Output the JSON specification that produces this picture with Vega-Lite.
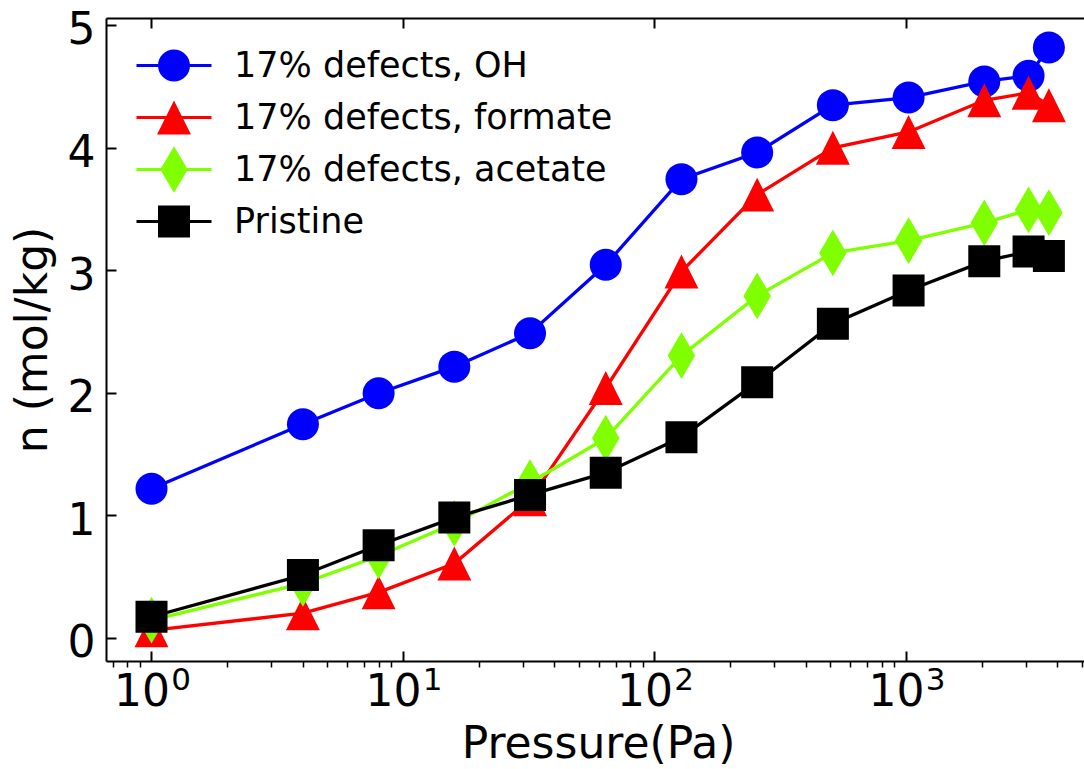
{
  "$schema": "https://vega.github.io/schema/vega-lite/v6.json",
  "width": 978,
  "height": 643,
  "autosize": {"type": "none"},
  "padding": {"left": 106, "top": 18, "right": 0, "bottom": 108},
  "background": "white",
  "config": {
    "font": "DejaVu Sans",
    "view": {"stroke": null},
    "axis": {"grid": false, "labelColor": "black", "titleColor": "black", "tickColor": "black", "domainColor": "black", "labelFont": "DejaVu Sans", "titleFont": "DejaVu Sans"}
  },
  "data": {
    "values": [
      {"series": "17% defects, OH", "p": 1, "n": 1.216},
      {"series": "17% defects, OH", "p": 4, "n": 1.742},
      {"series": "17% defects, OH", "p": 8, "n": 1.995},
      {"series": "17% defects, OH", "p": 16, "n": 2.212},
      {"series": "17% defects, OH", "p": 32, "n": 2.485},
      {"series": "17% defects, OH", "p": 64, "n": 3.043},
      {"series": "17% defects, OH", "p": 128, "n": 3.742},
      {"series": "17% defects, OH", "p": 256, "n": 3.959},
      {"series": "17% defects, OH", "p": 512, "n": 4.346},
      {"series": "17% defects, OH", "p": 1024, "n": 4.408},
      {"series": "17% defects, OH", "p": 2048, "n": 4.539},
      {"series": "17% defects, OH", "p": 3072, "n": 4.585},
      {"series": "17% defects, OH", "p": 3700, "n": 4.816},
      {"series": "17% defects, formate", "p": 1, "n": 0.06},
      {"series": "17% defects, formate", "p": 4, "n": 0.2},
      {"series": "17% defects, formate", "p": 8, "n": 0.37},
      {"series": "17% defects, formate", "p": 16, "n": 0.606},
      {"series": "17% defects, formate", "p": 32, "n": 1.13},
      {"series": "17% defects, formate", "p": 64, "n": 2.038},
      {"series": "17% defects, formate", "p": 128, "n": 2.988},
      {"series": "17% defects, formate", "p": 256, "n": 3.616},
      {"series": "17% defects, formate", "p": 512, "n": 3.998},
      {"series": "17% defects, formate", "p": 1024, "n": 4.127},
      {"series": "17% defects, formate", "p": 2048, "n": 4.385},
      {"series": "17% defects, formate", "p": 3072, "n": 4.447},
      {"series": "17% defects, formate", "p": 3700, "n": 4.345},
      {"series": "17% defects, acetate", "p": 1, "n": 0.144},
      {"series": "17% defects, acetate", "p": 4, "n": 0.444},
      {"series": "17% defects, acetate", "p": 8, "n": 0.667},
      {"series": "17% defects, acetate", "p": 16, "n": 0.933},
      {"series": "17% defects, acetate", "p": 32, "n": 1.265},
      {"series": "17% defects, acetate", "p": 64, "n": 1.628},
      {"series": "17% defects, acetate", "p": 128, "n": 2.302},
      {"series": "17% defects, acetate", "p": 256, "n": 2.789},
      {"series": "17% defects, acetate", "p": 512, "n": 3.14},
      {"series": "17% defects, acetate", "p": 1024, "n": 3.241},
      {"series": "17% defects, acetate", "p": 2048, "n": 3.385},
      {"series": "17% defects, acetate", "p": 3072, "n": 3.491},
      {"series": "17% defects, acetate", "p": 3700, "n": 3.469},
      {"series": "Pristine", "p": 1, "n": 0.171},
      {"series": "Pristine", "p": 4, "n": 0.512},
      {"series": "Pristine", "p": 8, "n": 0.754},
      {"series": "Pristine", "p": 16, "n": 0.98},
      {"series": "Pristine", "p": 32, "n": 1.165},
      {"series": "Pristine", "p": 64, "n": 1.347},
      {"series": "Pristine", "p": 128, "n": 1.636},
      {"series": "Pristine", "p": 256, "n": 2.085},
      {"series": "Pristine", "p": 512, "n": 2.563},
      {"series": "Pristine", "p": 1024, "n": 2.833},
      {"series": "Pristine", "p": 2048, "n": 3.073},
      {"series": "Pristine", "p": 3072, "n": 3.151},
      {"series": "Pristine", "p": 3700, "n": 3.114}
    ]
  },
  "encoding": {
    "y": {
      "field": "n", "type": "quantitative",
      "scale": {"domain": [-0.19, 5.057], "nice": false, "zero": false},
      "axis": {
        "orient": "left", "values": [0, 1, 2, 3, 4, 5],
        "labelFontSize": 44, "labelBaseline": "alphabetic", "labelAlign": "right",
        "labelOffset": 19, "labelPadding": 21, "labelFlush": false, "labelOverlap": false, "labelBound": false,
        "tickSize": -10, "tickWidth": 2, "domainWidth": 2, "grid": false,
        "title": "n (mol/kg)", "titleFontSize": 44, "titleFontWeight": "normal",
        "titleBaseline": "alphabetic", "titleAngle": 270, "titleAlign": "center",
        "titleX": -59.3, "titleY": 321.5
      }
    }
  },
  "resolve": {"axis": {"x": "independent"}},
  "layer": [
    {
      "transform": [{"filter": "datum.series === '17% defects, OH'"}],
      "encoding": {
        "x": {
          "field": "p", "type": "quantitative",
          "scale": {"type": "log", "domain": [0.6593, 5103], "nice": false},
          "axis": {
            "orient": "bottom", "values": [1, 10, 100, 1000], "labelExpr": "'10'",
            "labelFontSize": 44, "labelBaseline": "alphabetic", "labelAlign": "center",
            "labelOffset": -10, "labelPadding": 54, "labelFlush": false, "labelOverlap": false, "labelBound": false,
            "tickSize": -10, "tickWidth": 2, "domain": true, "domainWidth": 2, "grid": false,
            "title": "Pressure(Pa)", "titleFontSize": 44, "titleFontWeight": "normal",
            "titleBaseline": "alphabetic", "titleAlign": "center", "titleX": 492, "titleY": 96
          }
        }
      },
      "layer": [
        {"mark": {"type": "line", "strokeWidth": 3.3, "color": "#0000ff"}},
        {"mark": {"type": "point", "filled": true, "opacity": 1, "size": 1024, "strokeWidth": 0, "shape": "circle", "color": "#0000ff"}}
      ]
    },
    {
      "transform": [{"filter": "datum.series === '17% defects, formate'"}],
      "encoding": {
        "x": {
          "field": "p", "type": "quantitative",
          "scale": {"type": "log", "domain": [0.6593, 5103], "nice": false},
          "axis": {
            "orient": "bottom",
            "values": [0.7, 0.8, 0.9, 2, 3, 4, 5, 6, 7, 8, 9, 20, 30, 40, 50, 60, 70, 80, 90, 200, 300, 400, 500, 600, 700, 800, 900, 2000, 3000, 4000, 5000],
            "labels": false, "domain": false, "tickSize": 6, "tickWidth": 1.5, "grid": false, "title": null
          }
        }
      },
      "layer": [
        {"mark": {"type": "line", "strokeWidth": 3.3, "color": "#ff0000"}},
        {"mark": {"type": "point", "filled": true, "opacity": 1, "size": 1024, "strokeWidth": 0, "shape": "M0,-1.06L1.06,1.06L-1.06,1.06Z", "color": "#ff0000"}}
      ]
    },
    {
      "transform": [{"filter": "datum.series === '17% defects, acetate'"}],
      "encoding": {
        "x": {
          "field": "p", "type": "quantitative",
          "scale": {"type": "log", "domain": [0.6593, 5103], "nice": false},
          "axis": {
            "orient": "top", "values": [1, 10, 100, 1000],
            "labels": false, "domain": true, "domainWidth": 2, "tickSize": -10, "tickWidth": 2, "grid": false, "title": null
          }
        }
      },
      "layer": [
        {"mark": {"type": "line", "strokeWidth": 3.3, "color": "#7fff00"}},
        {"mark": {"type": "point", "filled": true, "opacity": 1, "size": 1024, "strokeWidth": 0, "shape": "M0,-1.46L0.86,0L0,1.46L-0.86,0Z", "color": "#7fff00"}}
      ]
    },
    {
      "transform": [{"filter": "datum.series === 'Pristine'"}],
      "encoding": {
        "x": {
          "field": "p", "type": "quantitative",
          "scale": {"type": "log", "domain": [0.6593, 5103], "nice": false},
          "axis": {
            "orient": "bottom", "values": [1, 10, 100, 1000],
            "labelExpr": "format(round(log(datum.value) / LN10), 'd')",
            "labelFontSize": 31, "labelBaseline": "alphabetic", "labelAlign": "center",
            "labelOffset": 29, "labelPadding": 38.3, "labelFlush": false, "labelOverlap": false, "labelBound": false,
            "tickSize": -10, "tickOpacity": 0, "domain": false, "grid": false, "title": null
          }
        }
      },
      "layer": [
        {"mark": {"type": "line", "strokeWidth": 3.3, "color": "#000000"}},
        {"mark": {"type": "point", "filled": true, "opacity": 1, "size": 1024, "strokeWidth": 0, "shape": "square", "color": "#000000"}}
      ]
    },
    {
      "mark": {"type": "point", "filled": true, "opacity": 0, "size": 1024, "strokeWidth": 0},
      "encoding": {
        "x": {
          "field": "p", "type": "quantitative",
          "scale": {"type": "log", "domain": [0.6593, 5103], "nice": false},
          "axis": null
        },
        "color": {
          "field": "series", "type": "nominal",
          "scale": {"domain": ["17% defects, OH", "17% defects, formate", "17% defects, acetate", "Pristine"], "range": ["#0000ff", "#ff0000", "#7fff00", "#000000"]},
          "legend": {
            "orient": "none", "legendX": 28, "legendY": 21.5, "title": null, "padding": 0,
            "labelFontSize": 35, "labelColor": "black", "labelBaseline": "middle", "labelOffset": 42.5, "labelLimit": 0,
            "symbolSize": 1024, "symbolStrokeWidth": 0, "symbolOpacity": 1, "symbolOffset": 22.5, "clipHeight": 52, "rowPadding": 0
          }
        },
        "shape": {
          "field": "series", "type": "nominal",
          "scale": {
            "domain": ["17% defects, OH", "17% defects, formate", "17% defects, acetate", "Pristine"],
            "range": [
              "M-2.344,-0.1L2.344,-0.1L2.344,0.1L-2.344,0.1ZM1,0A1,1,0,1,1,-1,0A1,1,0,1,1,1,0Z",
              "M-2.344,-0.1L2.344,-0.1L2.344,0.1L-2.344,0.1ZM0,-1.06L1.06,1.06L-1.06,1.06Z",
              "M-2.344,-0.1L2.344,-0.1L2.344,0.1L-2.344,0.1ZM0,-1.46L0.86,0L0,1.46L-0.86,0Z",
              "M-2.344,-0.1L2.344,-0.1L2.344,0.1L-2.344,0.1ZM-1,-1L1,-1L1,1L-1,1Z"
            ]
          },
          "legend": {
            "orient": "none", "legendX": 28, "legendY": 21.5, "title": null, "padding": 0,
            "labelFontSize": 35, "labelColor": "black", "labelBaseline": "middle", "labelOffset": 42.5, "labelLimit": 0,
            "symbolSize": 1024, "symbolStrokeWidth": 0, "symbolOpacity": 1, "symbolOffset": 22.5, "clipHeight": 52, "rowPadding": 0
          }
        }
      }
    }
  ]
}
